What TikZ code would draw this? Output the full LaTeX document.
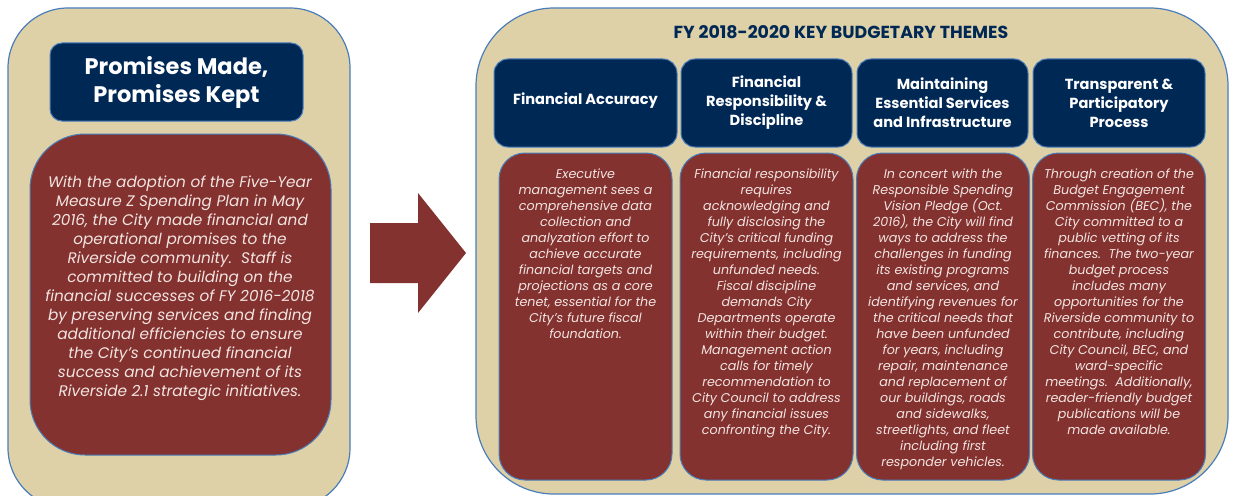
\documentclass[tikz,border=0pt]{standalone}
\usepackage{fontspec}
\setmainfont{Poppins}
\definecolor{sand}{RGB}{223,209,167}
\definecolor{navy}{RGB}{0,40,85}
\definecolor{brick}{RGB}{131,50,48}
\definecolor{rim}{RGB}{74,126,187}
\definecolor{pale}{RGB}{242,228,224}

\begin{document}
\begin{tikzpicture}[x=1pt,y=-1pt,
    panel/.style={draw=rim,fill=sand,line width=1.2pt,rounded corners=#1},
    headbox/.style={draw=rim,fill=navy,line width=1pt,rounded corners=14pt,
        minimum width=#1,minimum height=88pt,inner sep=0pt},
    bodybox/.style={draw=rim,fill=brick,line width=1pt,rounded corners=26pt,
        minimum width=173pt,minimum height=327pt,inner sep=0pt},
    headtxt/.style={text=white,font=\fontsize{14.6}{19}\selectfont\bfseries,align=center},
    bodytxt/.style={text=pale,font=\fontsize{12.7}{16}\selectfont\itshape,align=center,
        anchor=north,inner sep=0pt}]
                    \clip (0,0) rectangle (1233,495);
                    \fill[white] (0,0) rectangle (1233,495);
                    \node[panel=60pt,minimum width=342pt,minimum height=500pt,inner sep=0pt] (leftpanel) at (179,258) {};
                    \node[panel=78pt,minimum width=752pt,minimum height=486pt,inner sep=0pt] (rightpanel) at (852,251) {};

                    \node[draw=rim,fill=navy,line width=1pt,rounded corners=12pt,minimum width=253pt,minimum height=78pt,
                          text=white,font=\fontsize{22.5}{28}\selectfont\bfseries,align=center] (promise) at (176.5,82) {Promises Made,\\Promises Kept};
                    \node[draw=rim,fill=brick,line width=1pt,rounded corners=55pt,minimum width=301pt,minimum height=321pt] (promisebox) at (180.5,294.5) {};
                    \node[text=pale,font=\fontsize{15.3}{19}\selectfont\itshape,align=center,inner sep=0pt] (promisetxt) at (180,288)
                        {With the adoption of the Five-Year\\Measure Z Spending Plan in May\\2016, the City made financial and\\operational promises to the\\Riverside community.\ \ Staff is\\committed to building on the\\financial successes of FY 2016-2018\\by preserving services and finding\\additional efficiencies to ensure\\the City's continued financial\\success and achievement of its\\Riverside 2.1 strategic initiatives.};

                    \fill[brick] (370,223) -- (418,223) -- (418,193) -- (466,253) -- (418,313) -- (418,283) -- (370,283) -- cycle;

                    \node[text=navy,font=\fontsize{17.4}{20}\selectfont\bfseries] (themes) at (841,32) {FY 2018-2020 KEY BUDGETARY THEMES};

                    \node[headbox=183pt] (head1) at (585.5,103) {};
                    \node[headbox=171pt] (head2) at (766.5,103) {};
                    \node[headbox=171pt] (head3) at (942.5,103) {};
                    \node[headbox=172pt] (head4) at (1119,103) {};
                    \node[headtxt] (htxt1) at ([yshift=2pt]head1) {Financial Accuracy};
                    \node[headtxt] (htxt2) at (head2) {Financial\\Responsibility \&\\Discipline};
                    \node[headtxt] (htxt3) at (head3) {Maintaining\\Essential Services\\and Infrastructure};
                    \node[headtxt] (htxt4) at (head4) {Transparent \&\\Participatory\\Process};

                    \node[bodybox] (body1) at (585.5,316.5) {};
                    \node[bodybox] (body2) at (766.5,316.5) {};
                    \node[bodybox] (body3) at (943,316.5) {};
                    \node[bodybox] (body4) at (1119,316.5) {};
                    \node[bodytxt] (btxt1) at ([yshift=-16pt]body1.north)
                        {Executive\\management sees a\\comprehensive data\\collection and\\analyzation effort to\\achieve accurate\\financial targets and\\projections as a core\\tenet, essential for the\\City's future fiscal\\foundation.};
                    \node[bodytxt] (btxt2) at ([yshift=-16pt]body2.north)
                        {Financial responsibility\\requires\\acknowledging and\\fully disclosing the\\City's critical funding\\requirements, including\\unfunded needs.\\Fiscal discipline\\demands City\\Departments operate\\within their budget.\\Management action\\calls for timely\\recommendation to\\City Council to address\\any financial issues\\confronting the City.};
                    \node[bodytxt] (btxt3) at ([yshift=-16pt]body3.north)
                        {In concert with the\\Responsible Spending\\Vision Pledge (Oct.\\2016), the City will find\\ways to address the\\challenges in funding\\its existing programs\\and services, and\\identifying revenues for\\the critical needs that\\have been unfunded\\for years, including\\repair, maintenance\\and replacement of\\our buildings, roads\\and sidewalks,\\streetlights, and fleet\\including first\\responder vehicles.};
                    \node[bodytxt] (btxt4) at ([yshift=-16pt]body4.north)
                        {Through creation of the\\Budget Engagement\\Commission (BEC), the\\City committed to a\\public vetting of its\\finances.\ \ The two-year\\budget process\\includes many\\opportunities for the\\Riverside community to\\contribute, including\\City Council, BEC, and\\ward-specific\\meetings.\ \ Additionally,\\reader-friendly budget\\publications will be\\made available.};
                \end{tikzpicture}
\end{document}
